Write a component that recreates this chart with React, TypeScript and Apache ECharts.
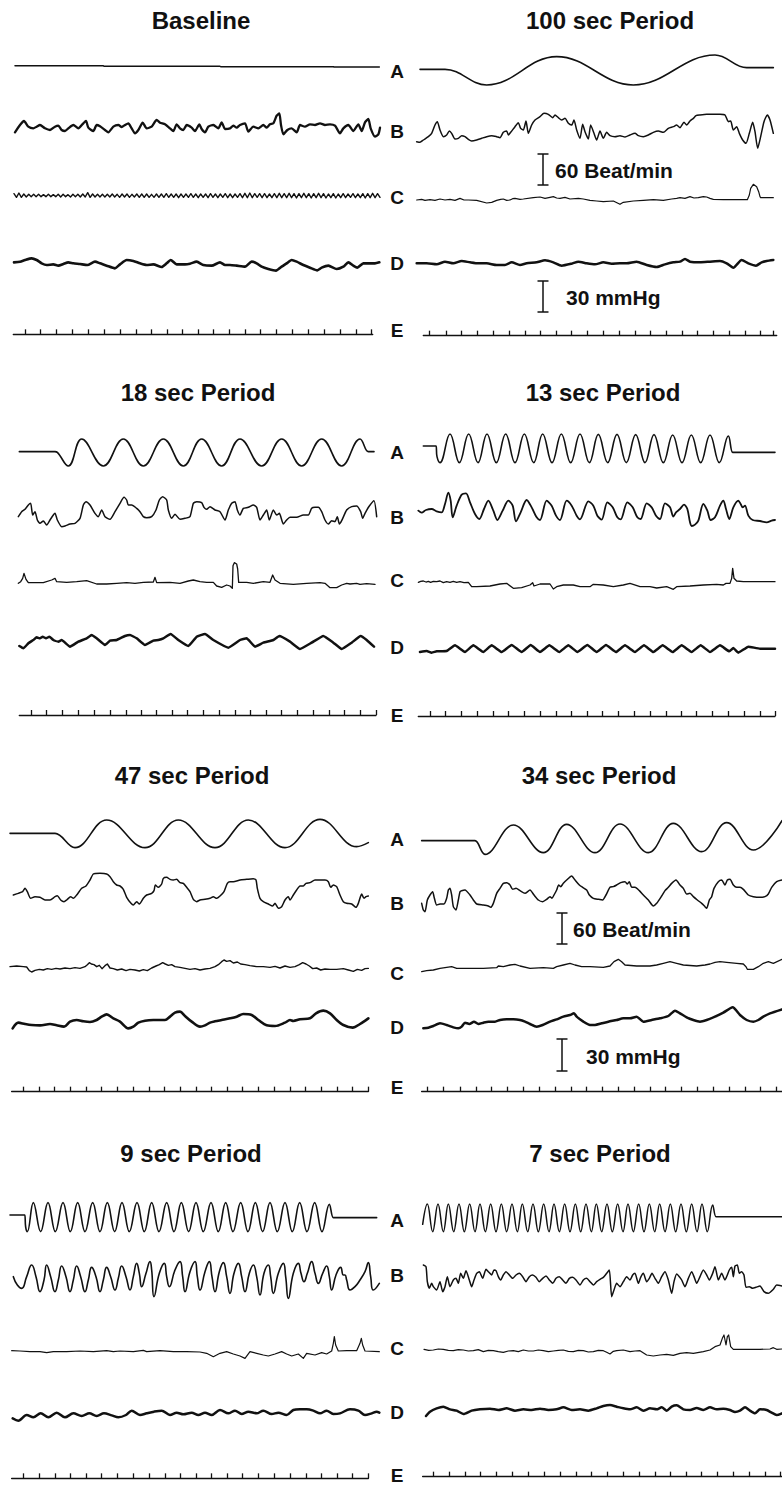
import React, { useEffect, useRef } from "react";
import * as echarts from "echarts";

type P = [number, number];

// Units: x = time in recorder units (3 per pixel of paper), y = deflection in the same units (up positive).

// ---------------- Baseline ----------------
const baselineA: P[] = [[45,2],[310,2],[312,0],[660,0],[662,-1],[1000,-1],[1002,-2],[1138,-2]];
const baselineB: P[] = [[45,-12],[60,10],[72,22],[85,5],[100,0],[110,5],[120,10],[135,0],[150,-5],[165,5],[175,8],[185,-5],[195,-8],[205,0],[220,10],[235,0],[250,15],[258,22],[265,2],[280,-8],[290,10],[300,6],[315,-5],[325,-12],[340,5],[355,10],[365,4],[375,10],[385,15],[395,0],[405,-15],[415,-5],[428,17],[440,0],[455,5],[470,25],[480,17],[495,12],[510,0],[520,-8],[530,12],[540,0],[550,-5],[560,10],[575,2],[585,-8],[598,12],[605,-2],[615,-12],[625,5],[640,10],[655,0],[665,18],[675,-2],[690,0],[700,8],[710,2],[720,10],[735,15],[745,-10],[760,5],[775,0],[790,10],[800,2],[810,12],[820,15],[830,38],[838,45],[843,10],[850,-18],[862,-5],[875,0],[890,-12],[900,10],[915,5],[930,12],[945,10],[960,15],[975,10],[990,12],[1005,8],[1020,-15],[1030,0],[1045,10],[1060,-8],[1075,12],[1085,-8],[1095,18],[1105,28],[1112,0],[1125,-25],[1135,-18],[1140,2]];
const baselineC: number[] = [6,-5,8,-5,5,-4,4,-3,4,-3,4,-3,3,-3,4,-3,3,-3,4,-4,
  4,-3,3,-4,4,-3,4,-4,5,-4,9,-5,5,-4,4,-4,4,-4,4,-4,
  5,-4,4,-5,5,-4,5,-5,4,-4,5,-5,5,-5,5,-5,4,-5,5,-5,
  5,-5,6,-5,5,-5,5,-6,5,-5,5,-5,6,-5,5,-6,5,-5,5,-6,
  6,-5,5,-6,5,-5,6,-6,5,-6,5,-5,6,-6,7,-6,8,-6,6,-5,
  6,-6,6,-6,5,-6,6,-6,7,-6,6,-6,7,-6,6,-7,6,-6,7,-6,
  6,-7,6,-6,7,-6,6,-7,5,-6,6,-7,5,-6,6,-6,5,-5,6,-6,
  5,-6,6,-7,6,-6,7,-6,6,-5];
const baselineD: P[] = [[42,3],[60,5],[75,10],[95,15],[110,10],[125,0],[140,-5],[160,-3],[175,-7],[190,-2],[205,3],[220,0],[240,-2],[262,-5],[285,5],[300,0],[320,-7],[345,-15],[360,-3],[380,10],[400,7],[420,0],[440,-5],[460,-3],[485,-11],[500,0],[512,10],[530,-3],[555,-3],[570,-1],[590,5],[610,-5],[635,-7],[660,3],[675,-5],[690,-5],[710,-7],[735,-10],[755,5],[770,0],[785,-10],[805,-17],[828,-22],[845,-10],[860,0],[875,10],[890,5],[910,-5],[930,-13],[952,-21],[965,-13],[985,-7],[1010,-17],[1030,-10],[1045,3],[1060,-7],[1072,-13],[1090,0],[1110,0],[1125,0],[1138,3]];
const baselineE: number[] = [75,122,170,218,265,313,360,408,455,503,548,595,640,688,735,782,830,877,925,972,1020,1070,1115];

// ---------------- 100 sec ----------------
const p100A: P[] = [[90,3],[160,3],[165,3],[290,-44],[500,41],[730,-44],[975,46],[1070,8],[1076,8],[1150,8]];
const p100B: P[] = [[80,-40],[90,-42],[100,-35],[115,-25],[125,-15],[135,10],[142,20],[150,-5],[160,-25],[170,-20],[178,-8],[185,-15],[195,-32],[205,-30],[215,-22],[225,-25],[235,-33],[245,-38],[260,-35],[275,-30],[290,-25],[305,-22],[320,-25],[330,-28],[340,-12],[350,-8],[355,-20],[362,-12],[375,5],[385,17],[392,0],[400,-5],[408,22],[415,-15],[425,10],[435,25],[450,35],[462,45],[475,42],[488,32],[495,40],[505,32],[515,25],[525,30],[535,15],[545,10],[552,25],[560,-5],[570,-30],[578,12],[585,-10],[595,-32],[602,10],[612,-15],[620,-35],[630,-8],[640,-30],[650,-12],[660,-22],[675,-25],[690,-22],[705,-26],[720,-20],[735,-15],[745,-22],[760,-25],[775,-20],[790,-12],[805,-8],[820,-12],[835,0],[850,5],[860,10],[870,2],[882,18],[890,10],[900,22],[910,30],[918,38],[930,40],[950,42],[970,42],[990,42],[1005,40],[1015,20],[1022,22],[1030,-5],[1040,5],[1048,-15],[1058,-35],[1068,-45],[1078,-15],[1088,18],[1095,-10],[1103,-60],[1112,-25],[1122,20],[1132,40],[1140,25],[1150,-15]];
const p100C: P[] = [[80,0],[95,2],[105,-1],[120,1],[135,-1],[150,3],[165,0],[180,2],[195,-1],[210,5],[222,0],[235,0],[260,-1],[290,-9],[305,-7],[320,-1],[332,2],[340,3],[350,-1],[360,0],[368,4],[375,5],[390,2],[400,3],[430,7],[450,9],[465,5],[480,8],[490,10],[500,6],[510,5],[525,8],[540,3],[565,5],[580,3],[600,-1],[620,-3],[640,-5],[670,-3],[690,-13],[700,-7],[730,-3],[760,-1],[790,1],[820,-1],[845,3],[860,5],[870,7],[885,5],[900,10],[912,6],[925,7],[940,10],[950,9],[960,5],[970,2],[1000,1],[1050,1],[1072,1],[1078,15],[1082,35],[1090,47],[1100,40],[1106,25],[1110,10],[1112,7],[1150,7]];
const p100D: P[] = [[80,0],[110,0],[140,-3],[165,5],[190,0],[215,7],[240,3],[265,0],[290,0],[320,-5],[345,-5],[365,3],[390,-5],[410,0],[440,3],[465,9],[490,3],[515,-7],[545,-1],[565,5],[590,0],[615,-3],[640,3],[665,-1],[690,0],[710,0],[740,5],[770,-5],[800,-11],[825,-3],[850,3],[870,5],[885,13],[900,5],[930,3],[960,5],[990,7],[1010,0],[1030,-13],[1055,10],[1075,0],[1098,-7],[1115,3],[1130,7],[1150,10]];
const p100E: number[] = [118,168,215,262,310,358,405,452,498,545,592,640,688,735,782,830,877,922,970,1018,1065,1112,1150];

// ---------------- 18 sec ----------------
const p18A: P[] = [[58,2],[165,2],[172,0],[205,-41],[245,40],[310,-41],[370,40],[430,-41],[490,40],[550,-41],[605,40],[665,-41],[720,40],[785,-41],[845,40],[905,-41],[965,40],[1025,-41],[1080,40],[1105,2],[1110,2],[1122,2]];
const p18B: P[] = [[55,-10],[65,5],[75,12],[85,25],[92,30],[98,-5],[105,5],[112,-20],[120,-30],[130,-23],[140,-35],[150,-20],[160,-5],[165,0],[172,-20],[185,-40],[195,-38],[210,-32],[225,-30],[240,-15],[250,25],[258,35],[270,25],[285,0],[295,-10],[305,10],[315,-10],[330,-18],[345,5],[360,30],[372,48],[380,40],[385,25],[395,25],[410,15],[420,5],[430,-10],[440,-13],[455,-10],[468,10],[478,40],[488,50],[500,40],[505,10],[515,-15],[525,-3],[540,-18],[555,-15],[570,-10],[580,30],[590,35],[605,32],[612,18],[620,12],[630,20],[645,10],[660,5],[675,-20],[685,10],[695,30],[705,35],[712,10],[720,-5],[730,15],[745,18],[760,25],[770,18],[780,-20],[790,-5],[800,10],[808,-20],[820,10],[830,-5],[838,0],[850,-32],[860,-20],[870,-12],[890,-12],[910,-5],[925,-5],[935,15],[945,18],[955,18],[965,5],[975,-20],[985,-32],[995,-22],[1005,-25],[1012,-10],[1018,-32],[1025,-22],[1040,10],[1055,20],[1070,22],[1082,5],[1088,-15],[1095,0],[1108,22],[1122,38],[1130,-10]];
const p18C: P[] = [[55,-3],[62,2],[68,12],[72,27],[78,9],[85,-1],[100,-1],[130,-1],[155,7],[165,12],[170,2],[200,0],[230,2],[260,5],[290,-5],[320,-5],[350,-3],[380,-1],[405,-3],[430,0],[460,1],[465,15],[470,-1],[510,0],[540,-3],[565,4],[580,7],[600,2],[620,0],[640,0],[650,-11],[665,-15],[680,-8],[690,-11],[697,-18],[699,50],[703,59],[710,55],[713,40],[716,0],[725,0],[740,0],[760,-3],[790,2],[810,0],[818,22],[825,7],[840,-3],[880,-6],[920,-3],[960,-1],[975,-3],[990,-16],[1010,-16],[1025,-8],[1040,-3],[1050,-5],[1070,-3],[1080,-6],[1100,-4],[1125,-6]];
const p18D: P[] = [[58,-13],[70,-20],[85,-5],[100,5],[110,13],[120,10],[128,15],[138,10],[148,15],[160,5],[175,0],[185,5],[210,-15],[235,0],[260,10],[275,20],[290,10],[315,-10],[330,3],[350,5],[375,17],[390,20],[410,10],[435,-10],[460,3],[475,5],[490,10],[512,23],[535,5],[565,-13],[590,15],[615,23],[640,5],[685,-18],[720,5],[740,10],[765,-15],[790,-3],[820,5],[838,17],[870,0],[900,-22],[935,-3],[970,17],[1000,-3],[1025,-22],[1055,-3],[1082,17],[1100,5],[1122,-15]];
const p18E: number[] = [95,140,188,235,283,330,378,425,470,517,563,610,657,705,752,798,845,893,940,988,1033,1080,1128];

// ---------------- 13 sec ----------------
const p13A: P[] = [[100,7],[134,7],[138,7],[141,-25],[150,-43],[180,43],[208,-43],[236,43],[264,-43],[291,43],[319,-43],[347,43],[375,-43],[403,43],[431,-43],[458,43],[486,-43],[514,43],[542,-43],[570,43],[598,-43],[625,42],[653,-43],[681,42],[709,-43],[737,41],[765,-43],[792,41],[820,-43],[848,40],[876,-43],[904,40],[932,-43],[960,40],[988,-43],[1015,37],[1028,-12],[1034,-12],[1155,-12]];
const p13B: P[] = [[85,-10],[95,-16],[108,-8],[125,-5],[140,-12],[155,-15],[165,10],[175,44],[182,20],[188,-30],[200,5],[215,38],[228,42],[240,15],[255,-20],[268,-35],[282,-5],[295,20],[310,-10],[322,-38],[338,-10],[355,20],[368,5],[378,-42],[392,-15],[410,22],[425,0],[440,-30],[450,-38],[470,20],[485,5],[498,-25],[510,-38],[530,20],[545,5],[560,-25],[570,-36],[595,18],[610,5],[622,-25],[635,-37],[652,15],[668,0],[682,-30],[692,-36],[712,15],[728,0],[742,-30],[752,-35],[770,12],[785,0],[798,-25],[810,-35],[825,12],[840,0],[850,-28],[858,-15],[870,-5],[882,8],[892,-5],[900,-45],[905,-56],[915,-52],[925,-40],[940,10],[952,-10],[962,-38],[975,-30],[990,5],[1000,20],[1008,-5],[1018,-35],[1030,0],[1045,20],[1052,10],[1058,0],[1065,5],[1075,-25],[1088,-38],[1110,-41],[1130,-45],[1145,-40],[1155,-38]];
const p13C: P[] = [[85,0],[92,3],[100,4],[108,1],[115,3],[122,0],[130,3],[140,2],[150,4],[160,-1],[170,2],[180,0],[190,3],[200,0],[210,2],[222,-1],[235,0],[245,-13],[260,-13],[300,-11],[330,-5],[350,-3],[370,-18],[395,-16],[420,-8],[428,-1],[432,-11],[450,-5],[480,-5],[490,-20],[500,-13],[520,-8],[550,-8],[570,-13],[600,-13],[610,-6],[640,-8],[670,-13],[700,-8],[720,-3],[750,-13],[780,-13],[800,-17],[830,-13],[850,-21],[860,-13],[900,-11],[940,-8],[980,-6],[1000,-8],[1008,-3],[1020,-3],[1025,12],[1028,42],[1032,12],[1040,4],[1060,2],[1155,2]];
const p13D: P[] = [[90,-8],[110,-5],[125,-10],[140,-6],[170,-5],[195,12],[225,-8],[250,12],[280,-8],[305,12],[335,-8],[365,13],[395,-8],[422,13],[450,-8],[478,12],[508,-8],[535,12],[562,-8],[592,13],[620,-8],[648,13],[678,-8],[705,12],[735,-8],[762,12],[790,-8],[818,12],[848,-8],[875,12],[905,-8],[932,12],[960,-8],[990,12],[1018,-6],[1030,4],[1045,-10],[1075,8],[1110,2],[1155,2]];
const p13E: number[] = [120,165,213,262,310,355,403,450,498,545,592,638,685,733,780,828,875,920,968,1015,1062,1110,1155];

// ---------------- 47 sec ----------------
const p47A: P[] = [[30,0],[158,0],[165,0],[225,-43],[320,40],[435,-43],[535,40],[645,-43],[745,40],[855,-43],[960,42],[1070,-40],[1105,-28]];
const p47B: P[] = [[40,-20],[55,-15],[68,-10],[75,0],[82,-10],[92,-30],[105,-25],[120,-27],[135,-35],[150,-35],[165,-25],[172,-22],[182,-35],[192,-40],[200,-35],[212,-25],[220,-30],[230,-20],[245,0],[258,7],[270,25],[280,43],[300,45],[320,43],[330,35],[340,20],[350,10],[360,7],[370,-3],[380,-27],[393,-45],[400,-50],[410,-40],[418,-47],[430,-30],[440,-20],[455,-15],[462,-7],[466,10],[475,3],[485,13],[490,30],[500,33],[510,27],[520,25],[530,27],[540,17],[550,15],[560,3],[570,-10],[580,-33],[590,-40],[600,-35],[615,-33],[630,-30],[640,-25],[650,-30],[660,-23],[672,-10],[682,15],[690,20],[700,20],[720,25],[740,27],[760,29],[768,25],[772,0],[780,-30],[790,-40],[805,-47],[818,-53],[825,-45],[835,-60],[845,-55],[855,-35],[865,-25],[870,-35],[880,-20],[890,-5],[900,7],[910,7],[918,15],[930,17],[945,25],[960,25],[975,25],[985,20],[992,3],[1000,10],[1010,5],[1020,-20],[1030,-40],[1040,-45],[1055,-47],[1068,-57],[1075,-45],[1085,-17],[1092,-30],[1098,-25],[1105,-23]];
const p47C: P[] = [[30,2],[50,4],[70,2],[80,1],[88,-10],[95,-14],[105,-9],[118,-6],[130,-8],[142,-4],[155,-6],[168,-3],[180,-5],[195,-2],[210,-4],[225,-1],[240,-3],[255,2],[262,8],[268,14],[274,10],[282,8],[290,2],[298,6],[306,-4],[315,5],[322,10],[330,-2],[340,-4],[352,-8],[365,-5],[378,-10],[390,-6],[405,-8],[418,-11],[430,-7],[442,-10],[455,-2],[468,4],[478,8],[488,14],[496,10],[505,6],[515,8],[525,2],[540,0],[555,-3],[570,-6],[585,-4],[600,-8],[615,-5],[630,-3],[645,2],[655,8],[665,17],[672,22],[680,18],[690,20],[700,13],[712,16],[722,10],[735,8],[750,5],[770,2],[790,2],[810,0],[825,3],[840,-2],[855,4],[870,0],[885,2],[898,8],[908,14],[918,10],[928,4],[938,-4],[950,-2],[962,-8],[975,-5],[990,-6],[1010,-6],[1030,-4],[1045,-8],[1060,-12],[1072,-6],[1085,-9],[1095,-4],[1105,-3]];
const p47D: P[] = [[38,-20],[55,-3],[75,-7],[95,-10],[120,-11],[150,-7],[170,-11],[192,-15],[210,0],[230,5],[250,1],[270,-1],[290,5],[305,15],[320,22],[340,10],[360,0],[385,-20],[400,-15],[415,-3],[435,3],[460,5],[495,5],[510,15],[525,27],[540,30],[555,17],[575,0],[600,-15],[615,-11],[630,-3],[645,1],[665,5],[690,10],[710,15],[730,23],[755,20],[775,5],[800,-11],[825,-13],[855,-3],[870,5],[880,2],[900,7],[930,10],[948,25],[970,33],[990,25],[1010,5],[1030,-10],[1058,-18],[1080,-7],[1105,10]];
const p47E: number[] = [70,118,163,210,258,305,353,400,447,493,540,588,635,682,728,775,822,870,917,963,1012,1058,1105];

// ---------------- 34 sec ----------------
const p34A: P[] = [[95,-4],[248,-4],[255,-4],[285,-45],[370,43],[460,-40],[530,45],[615,-40],[690,46],[775,-40],[850,48],[935,-37],[1010,50],[1090,-32],[1176,56]];
const p34B: P[] = [[95,-25],[100,-45],[105,-50],[112,-15],[120,0],[128,10],[132,-5],[140,-30],[150,-27],[162,-27],[170,-10],[175,15],[180,20],[185,0],[190,-35],[198,-45],[205,-15],[210,10],[215,13],[225,15],[240,0],[250,-15],[260,-27],[280,-30],[295,-33],[302,-37],[310,-25],[320,5],[330,20],[340,35],[350,37],[360,30],[368,17],[378,20],[390,13],[405,5],[420,15],[432,0],[445,-15],[458,-20],[470,-13],[480,-5],[486,-10],[492,0],[500,15],[506,30],[512,25],[520,35],[530,45],[545,57],[555,45],[568,30],[578,23],[590,15],[598,0],[610,-10],[625,-13],[638,-15],[648,0],[660,23],[670,25],[680,30],[692,37],[705,40],[712,33],[718,40],[725,23],[735,23],[748,13],[760,0],[775,-15],[790,-33],[800,-25],[815,-3],[825,13],[835,23],[845,35],[858,45],[870,30],[880,20],[890,3],[900,5],[910,-5],[922,-15],[935,-25],[945,-35],[950,-40],[958,-15],[965,-5],[972,20],[985,40],[995,45],[1005,30],[1012,45],[1020,47],[1030,30],[1040,23],[1050,23],[1060,17],[1075,0],[1090,-5],[1110,-7],[1125,-5],[1135,3],[1145,23],[1160,40],[1176,45]];
const p34C: P[] = [[95,-15],[110,-12],[130,-10],[150,-5],[170,-2],[185,0],[200,-5],[240,-5],[280,-5],[320,-3],[325,2],[340,0],[360,5],[375,7],[390,2],[420,-5],[460,-3],[490,-5],[500,0],[520,5],[540,10],[555,5],[575,0],[600,0],[640,-2],[660,2],[672,15],[685,22],[695,15],[705,5],[740,2],[780,2],[800,5],[820,10],[840,15],[860,10],[880,5],[920,2],[945,5],[960,8],[975,13],[990,15],[1010,13],[1040,10],[1060,8],[1068,0],[1072,-8],[1090,-8],[1105,0],[1120,10],[1135,15],[1150,10],[1176,22]];
const p34D: P[] = [[100,-20],[115,-18],[130,-13],[150,-5],[170,-10],[190,-17],[205,-20],[215,-15],[225,-3],[238,-7],[252,0],[265,-7],[280,-3],[295,0],[315,0],[330,5],[350,7],[370,7],[390,5],[405,0],[420,-7],[440,-15],[458,-10],[480,0],[500,7],[520,15],[540,20],[552,25],[560,15],[580,0],[600,-10],[615,-10],[635,-5],[655,0],[680,5],[700,10],[720,10],[740,15],[760,0],[785,5],[810,10],[835,17],[855,33],[870,25],[890,13],[910,5],[930,0],[950,5],[975,15],[1000,27],[1028,43],[1050,20],[1070,5],[1090,0],[1105,5],[1120,15],[1140,25],[1176,37]];
const p34E: number[] = [113,160,210,258,305,352,400,448,495,543,590,637,685,732,780,827,875,922,970,1017,1065,1112,1160];

// ---------------- 9 sec ----------------
const p9A: P[] = [[30,6],[70,6],[74,6],[77,-30],[82,-44],[100,43],[122,-44],[144,43],[166,-44],[189,43],[211,-44],[233,43],[255,-44],[278,43],[300,-44],[322,43],[344,-44],[366,43],[388,-44],[411,43],[433,-44],[455,43],[477,-44],[500,43],[522,-44],[544,43],[566,-44],[588,43],[610,-44],[633,43],[655,-44],[677,43],[699,-44],[722,43],[744,-44],[766,43],[788,-44],[810,43],[832,-44],[855,43],[877,-44],[899,43],[921,-44],[944,43],[966,-44],[988,38],[1000,-2],[1006,-2],[1130,-2]];
const p9B: P[] = [[40,0],[52,-25],[65,-35],[80,0],[95,35],[108,0],[120,-45],[132,-10],[140,35],[152,0],[165,-45],[175,-10],[185,32],[198,0],[210,-45],[220,-10],[230,32],[242,0],[255,-45],[265,-10],[275,28],[288,0],[300,-45],[310,-10],[320,28],[332,0],[345,-40],[355,-5],[365,32],[378,0],[390,-40],[400,0],[410,40],[418,10],[425,-30],[438,10],[450,45],[455,20],[462,-60],[478,10],[493,40],[500,0],[508,-30],[525,20],[540,45],[548,0],[555,-45],[570,15],[585,45],[592,0],[600,-40],[615,15],[628,45],[636,0],[645,-45],[658,15],[670,42],[680,0],[690,-50],[702,10],[715,40],[725,0],[735,-45],[748,10],[760,35],[770,0],[780,-55],[792,10],[805,35],[812,0],[820,-50],[835,10],[850,40],[857,0],[865,-65],[880,10],[895,40],[903,10],[912,-15],[922,10],[935,45],[945,10],[955,-20],[968,10],[980,32],[988,0],[995,-40],[1008,5],[1022,28],[1030,5],[1035,5],[1040,-10],[1050,-40],[1065,-30],[1080,-10],[1095,15],[1105,42],[1112,0],[1120,-40],[1138,-20]];
const p9C: P[] = [[35,3],[60,2],[90,0],[120,0],[140,-3],[160,0],[200,0],[240,2],[280,0],[320,3],[340,0],[360,2],[400,0],[430,4],[440,0],[480,3],[520,0],[560,0],[600,-1],[620,-5],[640,-15],[660,-5],[680,0],[700,-7],[720,-13],[735,-20],[750,0],[770,-5],[790,-10],[805,-13],[825,-7],[845,0],[860,-7],[875,-13],[895,-7],[910,-20],[920,-5],[945,-10],[965,-3],[980,-7],[995,2],[1000,25],[1003,45],[1007,20],[1015,2],[1040,3],[1070,3],[1080,25],[1084,40],[1088,20],[1095,2],[1138,0]];
const p9D: P[] = [[38,-12],[55,-19],[80,-2],[100,-9],[122,3],[145,-9],[170,5],[195,-9],[220,3],[245,-5],[268,3],[290,-5],[312,3],[335,-3],[355,-9],[378,-2],[395,11],[420,-2],[440,3],[462,8],[485,11],[510,-2],[530,5],[550,0],[575,5],[595,-2],[615,5],[635,-2],[660,13],[685,3],[705,11],[725,1],[745,8],[770,3],[790,11],[815,1],[835,5],[860,-2],[880,13],[900,15],[920,15],[940,11],[960,3],[980,11],[1000,1],[1020,3],[1050,15],[1075,11],[1095,-2],[1115,3],[1130,8],[1138,5]];
const p9E: number[] = [70,118,165,212,258,305,353,400,448,495,540,588,635,682,728,775,822,870,918,965,1012,1058,1105];

// ---------------- 7 sec ----------------
const p7A: P[] = [[98,-20],[112,41],[128,-42],[144,41],[160,-42],[175,41],[191,-42],[207,41],[223,-42],[239,41],[255,-42],[270,41],[286,-42],[302,41],[318,-42],[334,41],[350,-42],[366,41],[382,-42],[397,41],[413,-42],[429,41],[445,-42],[461,41],[477,-42],[492,41],[508,-42],[524,41],[540,-42],[556,41],[572,-42],[588,41],[604,-42],[619,41],[635,-42],[651,41],[667,-42],[683,41],[699,-42],[714,41],[730,-42],[746,41],[762,-42],[778,41],[794,-42],[809,41],[825,-42],[841,41],[857,-42],[873,41],[889,-42],[905,41],[921,-42],[936,41],[952,-42],[968,38],[978,3],[984,3],[1176,3]];
const p7B: P[] = [[100,40],[108,35],[112,-10],[118,-30],[125,-15],[130,-25],[140,-35],[150,-10],[158,-40],[165,-25],[172,5],[180,-25],[190,-5],[198,0],[205,-15],[212,15],[220,0],[228,23],[238,-5],[245,-25],[252,-5],[260,15],[268,20],[278,0],[288,27],[295,20],[305,10],[312,25],[318,23],[325,5],[332,-5],[340,10],[348,20],[358,10],[368,0],[378,10],[388,15],[398,5],[408,-10],[418,5],[428,10],[438,3],[448,-10],[458,0],[468,7],[478,-5],[488,-15],[498,0],[508,5],[518,-5],[528,-15],[538,0],[548,3],[558,-5],[570,-20],[580,-5],[590,0],[600,-10],[610,-20],[620,-10],[630,-3],[640,3],[650,15],[658,25],[665,-55],[672,-35],[680,-15],[690,-25],[700,-10],[710,5],[720,-5],[728,10],[735,15],[745,-15],[752,3],[760,15],[770,-10],[778,0],[786,15],[795,0],[805,-15],[815,5],[825,20],[835,-5],[845,-45],[852,-10],[860,13],[868,5],[875,-5],[885,-25],[895,0],[905,20],[912,5],[920,-15],[930,5],[940,25],[950,10],[958,-5],[968,15],[975,35],[985,-5],[995,15],[1005,-5],[1012,10],[1018,25],[1025,33],[1030,5],[1035,37],[1042,40],[1048,15],[1055,20],[1062,10],[1068,-27],[1078,-25],[1088,-30],[1098,-27],[1110,-23],[1122,-40],[1135,-45],[1150,-33],[1160,-20],[1176,-23]];
const p7C: P[] = [[102,2],[116,-1],[130,0],[145,3],[160,2],[175,-1],[190,-2],[205,1],[220,0],[235,-3],[250,-2],[265,1],[280,-5],[295,-1],[310,-2],[325,-5],[340,-7],[355,-3],[370,-2],[385,-5],[400,0],[415,-3],[430,-3],[445,0],[460,-2],[475,-5],[490,-3],[505,-1],[520,0],[535,-4],[550,-5],[565,-1],[580,-2],[595,-6],[610,-5],[625,-1],[640,-2],[650,-7],[660,-12],[670,-4],[680,-2],[700,0],[720,-5],[735,-3],[750,-2],[770,-15],[790,-18],[810,-15],[830,-13],[850,-16],[870,-10],[890,-8],[910,-10],[940,-5],[960,0],[975,10],[990,15],[997,35],[1002,45],[1008,15],[1012,40],[1016,45],[1022,10],[1030,2],[1080,2],[1110,2],[1140,3],[1150,7],[1160,2],[1176,3]];
const p7D: P[] = [[108,-18],[120,-5],[140,5],[160,10],[180,2],[200,-2],[220,-12],[245,-2],[270,2],[300,4],[325,0],[350,5],[375,-2],[400,2],[425,0],[450,4],[475,0],[500,2],[520,8],[545,0],[570,2],[595,-2],[620,5],[640,12],[660,15],[680,10],[700,5],[720,2],[740,8],[760,-2],[780,5],[800,2],[815,8],[830,-2],[845,10],[860,14],[880,2],[900,0],[920,6],[940,0],[960,8],[980,2],[1000,4],[1020,0],[1035,-6],[1050,-2],[1065,8],[1080,-2],[1095,-10],[1110,2],[1130,0],[1145,-8],[1160,-15],[1176,-10]];
const p7E: number[] = [130,178,225,272,320,368,415,462,510,558,605,652,700,748,795,842,888,935,982,1030,1078,1125,1170];

const LETTERS = ["A", "B", "C", "D", "E"];

// ---------------- layout ----------------
const UNIT = 3;          // recorder units per screen pixel
const SPAN = 1176;       // panel width in recorder units
const R = 90;            // half height of each trace band (recorder units)
const ROW_Y = [45, 420, 800, 1180];
const COL_X = [0, 390];
const TITLE_Y = [20, 392, 775, 1153];
const LABEL_X = 397;
const LABEL_Y = [
  [71, 131, 197, 263, 330],
  [452, 517, 580, 647, 715],
  [839, 903, 973, 1027, 1087],
  [1220, 1275, 1348, 1412, 1475],
];

type Trace = { pts?: P[]; vals?: number[]; x0?: number; x1?: number; mid: number; smooth: number; w: number };
type Panel = { title: string; tx: number; row: number; col: number; traces: Trace[]; e: { ticks: number[]; start: number; end: number; y: number } };

const PANELS: Panel[] = [
  { title: "Baseline", tx: 201, row: 0, col: 0, traces: [
    { pts: baselineA, mid: 64, smooth: 0, w: 1.5 },
    { pts: baselineB, mid: 250, smooth: 0.2, w: 2.3 },
    { vals: baselineC, x0: 42, x1: 1140, mid: 452, smooth: 0, w: 1.4 },
    { pts: baselineD, mid: 655, smooth: 0.2, w: 2.6 },
  ], e: { ticks: baselineE, start: 40, end: 1118, y: 868 } },
  { title: "100 sec Period", tx: 610, row: 0, col: 1, traces: [
    { pts: p100A, mid: 76, smooth: 0.4, w: 1.6 },
    { pts: p100B, mid: 250, smooth: 0.2, w: 1.5 },
    { pts: p100C, mid: 465, smooth: 0, w: 1.2 },
    { pts: p100D, mid: 655, smooth: 0.2, w: 2.5 },
  ], e: { ticks: p100E, start: 100, end: 1160, y: 872 } },
  { title: "18 sec Period", tx: 198, row: 1, col: 0, traces: [
    { pts: p18A, mid: 97, smooth: 0.42, w: 1.6 },
    { pts: p18B, mid: 280, smooth: 0.2, w: 1.5 },
    { pts: p18C, mid: 487, smooth: 0, w: 1.3 },
    { pts: p18D, mid: 665, smooth: 0.1, w: 2.5 },
  ], e: { ticks: p18E, start: 58, end: 1128, y: 885 } },
  { title: "13 sec Period", tx: 603, row: 1, col: 1, traces: [
    { pts: p13A, mid: 85, smooth: 0.42, w: 1.6 },
    { pts: p13B, mid: 262, smooth: 0.3, w: 1.8 },
    { pts: p13C, mid: 487, smooth: 0, w: 1.3 },
    { pts: p13D, mid: 688, smooth: 0.1, w: 2.5 },
  ], e: { ticks: p13E, start: 85, end: 1155, y: 888 } },
  { title: "47 sec Period", tx: 192, row: 2, col: 0, traces: [
    { pts: p47A, mid: 100, smooth: 0.4, w: 1.6 },
    { pts: p47B, mid: 265, smooth: 0.2, w: 1.5 },
    { pts: p47C, mid: 502, smooth: 0, w: 1.4 },
    { pts: p47D, mid: 665, smooth: 0.3, w: 2.6 },
  ], e: { ticks: p47E, start: 35, end: 1105, y: 875 } },
  { title: "34 sec Period", tx: 599, row: 2, col: 1, traces: [
    { pts: p34A, mid: 118, smooth: 0.4, w: 1.6 },
    { pts: p34B, mid: 285, smooth: 0.2, w: 1.5 },
    { pts: p34C, mid: 500, smooth: 0, w: 1.3 },
    { pts: p34D, mid: 665, smooth: 0.2, w: 2.5 },
  ], e: { ticks: p34E, start: 95, end: 1176, y: 875 } },
  { title: "9 sec Period", tx: 191, row: 3, col: 0, traces: [
    { pts: p9A, mid: 111, smooth: 0.42, w: 1.6 },
    { pts: p9B, mid: 290, smooth: 0.5, w: 1.6 },
    { pts: p9C, mid: 515, smooth: 0, w: 1.2 },
    { pts: p9D, mid: 703, smooth: 0.3, w: 2.5 },
  ], e: { ticks: p9E, start: 35, end: 1105, y: 895 } },
  { title: "7 sec Period", tx: 600, row: 3, col: 1, traces: [
    { pts: p7A, mid: 113, smooth: 0.42, w: 1.5 },
    { pts: p7B, mid: 295, smooth: 0.2, w: 1.5 },
    { pts: p7C, mid: 510, smooth: 0, w: 1.2 },
    { pts: p7D, mid: 690, smooth: 0.2, w: 2.5 },
  ], e: { ticks: p7E, start: 98, end: 1176, y: 890 } },
];

const SCALE_BARS = [
  { x: 543, y1: 154, y2: 185, text: "60 Beat/min", tx: 555, ty: 170 },
  { x: 543, y1: 281, y2: 312, text: "30 mmHg", tx: 566, ty: 297 },
  { x: 562, y1: 913, y2: 944, text: "60 Beat/min", tx: 573, ty: 929 },
  { x: 562, y1: 1039, y2: 1071, text: "30 mmHg", tx: 586, ty: 1056 },
];

const INK = "#111";
const FONT = '"Liberation Sans", Arial, Helvetica, sans-serif';

function buildOption() {
  const grid: any[] = [];
  const xAxis: any[] = [];
  const yAxis: any[] = [];
  const series: any[] = [];
  const graphic: any[] = [];

  PANELS.forEach((p) => {
    const ox = COL_X[p.col];
    const oy = ROW_Y[p.row];
    p.traces.forEach((t) => {
      const idx = grid.length;
      let data: P[] = t.pts || [];
      if (t.vals) {
        const n = t.vals.length;
        data = t.vals.map((v, i) => [t.x0! + (i * (t.x1! - t.x0!)) / (n - 1), v] as P);
      }
      grid.push({ left: ox, top: oy + (t.mid - R) / UNIT, width: SPAN / UNIT, height: (2 * R) / UNIT });
      xAxis.push({ gridIndex: idx, type: "value", min: 0, max: SPAN, show: false });
      yAxis.push({ gridIndex: idx, type: "value", min: -R, max: R, show: false });
      series.push({
        type: "line", xAxisIndex: idx, yAxisIndex: idx, data, showSymbol: false, symbol: "none",
        smooth: t.smooth > 0 ? t.smooth : false, clip: false, silent: true,
        lineStyle: { color: INK, width: t.w, join: "round", cap: "round" },
      });
    });
    // E: time-marker channel drawn as an axis with upward ticks
    const ei = grid.length;
    grid.push({ left: ox + p.e.start / UNIT, top: oy + p.e.y / UNIT - 10, width: (p.e.end - p.e.start) / UNIT, height: 10 });
    xAxis.push({
      gridIndex: ei, type: "value", min: p.e.start, max: p.e.end, position: "bottom",
      axisLine: { show: true, onZero: false, lineStyle: { color: INK, width: 1.4 } },
      axisTick: { show: true, inside: true, length: 5, customValues: p.e.ticks, lineStyle: { color: INK, width: 1.3 } },
      axisLabel: { show: false }, splitLine: { show: false },
    });
    yAxis.push({ gridIndex: ei, type: "value", min: 0, max: 1, show: false });
    series.push({ type: "line", xAxisIndex: ei, yAxisIndex: ei, data: [], silent: true });

    graphic.push({
      type: "text", x: p.tx, y: TITLE_Y[p.row],
      style: { text: p.title, font: `bold 24px ${FONT}`, fill: INK, align: "center", verticalAlign: "middle", textAlign: "center", textVerticalAlign: "middle" },
    });
  });

  LABEL_Y.forEach((ys) => {
    ys.forEach((y, i) => {
      graphic.push({
        type: "text", x: LABEL_X, y,
        style: { text: LETTERS[i], font: `bold 19px ${FONT}`, fill: INK, align: "center", verticalAlign: "middle", textAlign: "center", textVerticalAlign: "middle" },
      });
    });
  });

  SCALE_BARS.forEach((b) => {
    graphic.push({ type: "line", shape: { x1: b.x, y1: b.y1, x2: b.x, y2: b.y2 }, style: { stroke: INK, lineWidth: 1.5 } });
    graphic.push({ type: "line", shape: { x1: b.x - 5.5, y1: b.y1, x2: b.x + 5.5, y2: b.y1 }, style: { stroke: INK, lineWidth: 1.5 } });
    graphic.push({ type: "line", shape: { x1: b.x - 5.5, y1: b.y2, x2: b.x + 5.5, y2: b.y2 }, style: { stroke: INK, lineWidth: 1.5 } });
    graphic.push({
      type: "text", x: b.tx, y: b.ty,
      style: { text: b.text, font: `bold 21px ${FONT}`, fill: INK, align: "left", verticalAlign: "middle", textAlign: "left", textVerticalAlign: "middle" },
    });
  });

  return { animation: false, backgroundColor: "#fff", grid, xAxis, yAxis, series, graphic };
}

export default function App() {
  const ref = useRef<HTMLDivElement>(null);
  useEffect(() => {
    if (!ref.current) return;
    const chart = echarts.init(ref.current, undefined, { renderer: "svg" });
    chart.setOption(buildOption() as any);
    return () => chart.dispose();
  }, []);
  return <div ref={ref} style={{ position: "absolute", left: 0, top: 0, width: 782, height: 1485, background: "#fff" }} />;
}
